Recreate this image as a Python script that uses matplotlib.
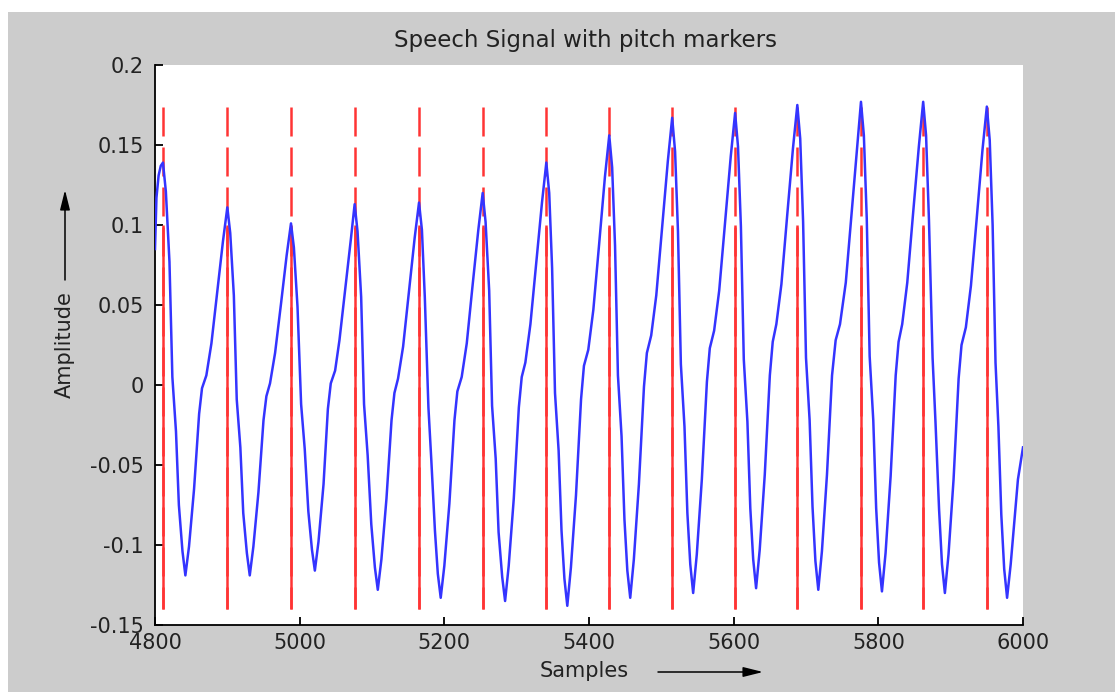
import matplotlib
matplotlib.use("Agg")
import matplotlib.pyplot as plt
from matplotlib.patches import Rectangle

plt.rcParams['font.family'] = ['DejaVu Sans']
plt.rcParams['axes.unicode_minus'] = False

# ---- data ----
title = "Speech Signal with pitch markers"
xlabel = "Samples"
ylabel = "Amplitude"

x_ticks = [4800, 5000, 5200, 5400, 5600, 5800, 6000]
x_tick_labels = ["4800", "5000", "5200", "5400", "5600", "5800", "6000"]
y_ticks = [-0.15, -0.1, -0.05, 0, 0.05, 0.1, 0.15, 0.2]
y_tick_labels = ["-0.15", "-0.1", "-0.05", "0", "0.05", "0.1", "0.15", "0.2"]

# pitch marker positions (samples)
pitch_marks = [4811, 4900, 4988, 5076, 5165, 5253, 5341, 5428, 5515, 5602,
               5688, 5776, 5862, 5950]
mark_top = 0.174
mark_bottom = -0.140
mark_solid_top = 0.100

# speech signal key points (sample, amplitude)
sig_x = [4800, 4802, 4805, 4808,
         4811, 4815, 4820, 4824, 4829, 4833, 4838, 4842,
         4847, 4854, 4861, 4865, 4871, 4878, 4886, 4894,
         4900, 4904, 4909, 4913, 4918, 4922, 4927, 4931,
         4936, 4943, 4950, 4954, 4959, 4966, 4974, 4982,
         4988, 4992, 4997, 5002, 5007, 5012, 5017, 5021,
         5026, 5033, 5039, 5043, 5049, 5055, 5063, 5071,
         5076, 5080, 5085, 5089, 5094, 5099, 5104, 5108,
         5113, 5120, 5127, 5131, 5136, 5143, 5151, 5159,
         5165, 5169, 5173, 5178, 5182, 5187, 5191, 5195,
         5200, 5207, 5214, 5218, 5224, 5231, 5239, 5247,
         5253, 5257, 5262, 5266, 5271, 5275, 5280, 5284,
         5289, 5296, 5303, 5307, 5312, 5319, 5327, 5335,
         5341, 5345, 5349, 5353, 5358, 5362, 5366, 5370,
         5375, 5382, 5389, 5393, 5399, 5406, 5414, 5422,
         5428, 5432, 5436, 5440, 5445, 5449, 5453, 5457,
         5462, 5469, 5476, 5480, 5486, 5493, 5501, 5509,
         5515, 5519, 5523, 5527, 5532, 5536, 5540, 5544,
         5549, 5556, 5563, 5567, 5573, 5580, 5588, 5596,
         5602, 5606, 5610, 5614, 5619, 5623, 5627, 5631,
         5636, 5643, 5650, 5654, 5659, 5666, 5674, 5682,
         5688, 5692, 5696, 5700, 5705, 5709, 5713, 5717,
         5722, 5729, 5736, 5741, 5747, 5755, 5763, 5771,
         5776, 5780, 5784, 5788, 5793, 5797, 5801, 5805,
         5810, 5817, 5824, 5828, 5833, 5840, 5848, 5856,
         5862, 5866, 5870, 5875, 5879, 5884, 5888, 5892,
         5897, 5904, 5911, 5915, 5921, 5928, 5936, 5944,
         5950, 5954, 5958, 5962, 5966, 5970, 5974, 5978,
         5983, 5989, 5993, 6000]
sig_y = [0.085, 0.117, 0.131, 0.137,
         0.139, 0.121, 0.077, 0.005, -0.029, -0.075, -0.104, -0.119,
         -0.101, -0.065, -0.018, -0.002, 0.006, 0.026, 0.058, 0.090,
         0.111, 0.095, 0.056, -0.009, -0.039, -0.080, -0.105, -0.119,
         -0.101, -0.067, -0.022, -0.007, 0.001, 0.020, 0.050, 0.081,
         0.101, 0.086, 0.049, -0.012, -0.040, -0.079, -0.103, -0.116,
         -0.098, -0.062, -0.015, 0.001, 0.009, 0.028, 0.060, 0.092,
         0.113, 0.096, 0.055, -0.012, -0.044, -0.087, -0.114, -0.128,
         -0.109, -0.071, -0.022, -0.005, 0.004, 0.024, 0.058, 0.092,
         0.114, 0.097, 0.055, -0.014, -0.047, -0.091, -0.118, -0.133,
         -0.113, -0.074, -0.022, -0.004, 0.005, 0.026, 0.062, 0.097,
         0.120, 0.102, 0.059, -0.013, -0.046, -0.092, -0.120, -0.135,
         -0.113, -0.071, -0.014, 0.005, 0.014, 0.038, 0.076, 0.114,
         0.139, 0.120, 0.073, -0.005, -0.041, -0.091, -0.121, -0.138,
         -0.114, -0.069, -0.009, 0.012, 0.022, 0.047, 0.088, 0.130,
         0.156, 0.136, 0.087, 0.006, -0.032, -0.084, -0.116, -0.133,
         -0.109, -0.062, -0.001, 0.020, 0.031, 0.056, 0.098, 0.140,
         0.167, 0.146, 0.096, 0.013, -0.026, -0.080, -0.112, -0.130,
         -0.106, -0.059, 0.002, 0.023, 0.034, 0.059, 0.101, 0.143,
         0.170, 0.149, 0.099, 0.016, -0.023, -0.077, -0.109, -0.127,
         -0.103, -0.056, 0.006, 0.027, 0.038, 0.063, 0.106, 0.148,
         0.175, 0.154, 0.102, 0.017, -0.022, -0.076, -0.110, -0.128,
         -0.104, -0.056, 0.006, 0.028, 0.038, 0.064, 0.107, 0.150,
         0.177, 0.156, 0.104, 0.018, -0.022, -0.077, -0.111, -0.129,
         -0.105, -0.057, 0.006, 0.027, 0.038, 0.064, 0.107, 0.149,
         0.177, 0.156, 0.103, 0.017, -0.023, -0.078, -0.112, -0.130,
         -0.106, -0.059, 0.004, 0.025, 0.036, 0.062, 0.104, 0.147,
         0.174, 0.153, 0.100, 0.014, -0.026, -0.081, -0.115, -0.133,
         -0.112, -0.080, -0.059, -0.039]

# ---- figure ----
W, H = 1115, 692
fig = plt.figure(figsize=(W / 100, H / 100), dpi=100, facecolor='white')
fig.patches.append(Rectangle((8 / W, 0), 1 - 8 / W, 1 - 12 / H,
                             transform=fig.transFigure, facecolor='#cccccc',
                             edgecolor='none', zorder=-10))

ax = fig.add_axes([155 / W, (H - 625) / H, 868 / W, 560 / H])
ax.set_facecolor('white')

red = '#ff3434'
blue = '#3434ff'
for m in pitch_marks:
    ax.plot([m, m], [mark_top, mark_bottom], color=red, lw=1.8,
            linestyle=(0, (11.6, 4.4)), solid_capstyle='butt', zorder=2)
    ax.plot([m, m], [mark_bottom, mark_solid_top], color=red, lw=1.8,
            solid_capstyle='butt', zorder=2)

ax.plot(sig_x, sig_y, color=blue, lw=1.8, zorder=3)

ax.set_xlim(4800, 6000)
ax.set_ylim(-0.15, 0.2)
ax.set_xticks(x_ticks)
ax.set_xticklabels(x_tick_labels)
ax.set_yticks(y_ticks)
ax.set_yticklabels(y_tick_labels)

for s in ['top', 'right']:
    ax.spines[s].set_visible(False)
for s in ['left', 'bottom']:
    ax.spines[s].set_linewidth(1.3)
    ax.spines[s].set_color('black')
ax.tick_params(direction='in', length=6, width=1.3, labelsize=15,
               colors='black', labelcolor='#222222')
ax.tick_params(axis='x', pad=6)
ax.tick_params(axis='y', pad=8)

fig.text(585 / W, 1 - 41 / H, title, ha='center', va='center',
         fontsize=16.5, color='#222222')
fig.text(584 / W, 1 - 671 / H, xlabel, ha='center', va='center',
         fontsize=15, color='#222222')
fig.text(65 / W, 1 - 345 / H, ylabel, ha='center', va='center',
         rotation=90, fontsize=15, color='#222222')

arrow_props = dict(arrowstyle='-|>,head_length=1.2,head_width=0.3',
                   color='black', lw=1.1, shrinkA=0, shrinkB=0)
ax.annotate('', xy=(763, H - 672), xytext=(658, H - 672),
            xycoords='figure pixels', textcoords='figure pixels',
            arrowprops=arrow_props, annotation_clip=False)
ax.annotate('', xy=(65, H - 190), xytext=(65, H - 280),
            xycoords='figure pixels', textcoords='figure pixels',
            arrowprops=arrow_props, annotation_clip=False)

fig.savefig('out.png', dpi=100, facecolor='white')
